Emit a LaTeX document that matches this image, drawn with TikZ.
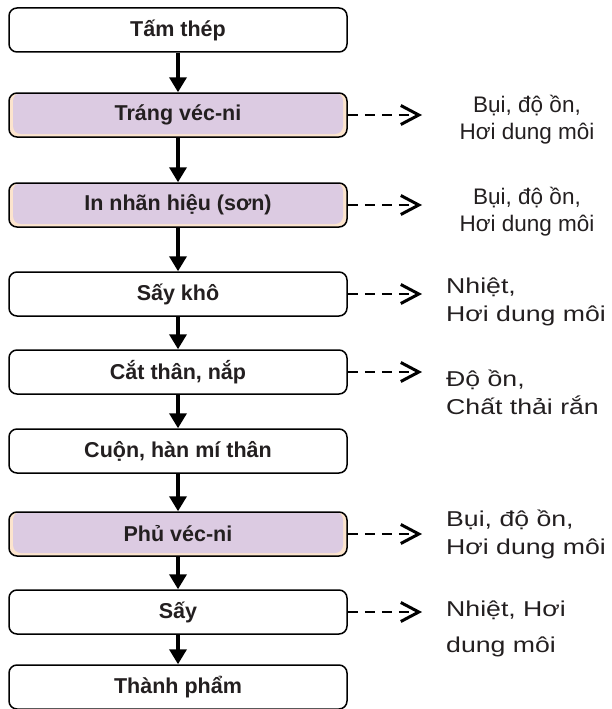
\documentclass[tikz,border=0pt]{standalone}
\usepackage{fontspec}
\setmainfont{Liberation Sans}
\newfontfamily\widefont[FakeStretch=1.24]{Liberation Sans}
\usetikzlibrary{arrows.meta}
\definecolor{lav}{RGB}{220,203,226}
\definecolor{peach}{RGB}{252,228,205}
\definecolor{ink}{RGB}{35,31,32}
\begin{document}
\begin{tikzpicture}[x=1pt,y=-1pt,
 stepbox/.style={draw=black, line width=1.5pt, rounded corners=8pt, minimum width=338pt, minimum height=44pt,
   font=\fontsize{21.5}{25}\selectfont\bfseries, text=ink, inner sep=0pt, fill=white},
 hlbox/.style={stepbox, fill=peach, path picture={\fill[lav] ([xshift=4pt]path picture bounding box.north west) rectangle ([xshift=-4pt,yshift=3pt]path picture bounding box.south east);}},
 flow/.style={-{Triangle[length=15pt,width=17pt]}, line width=3.5pt},
 emit/.style={-{Straight Barb[length=18pt,width=19pt,line width=3pt]}, line width=2.8pt, dash pattern=on 10pt off 7pt},
 lab/.style={font=\fontsize{22.5}{27}\selectfont, align=center, text=ink, inner sep=0pt},
 labw/.style={font=\widefont\fontsize{21.5}{28}\selectfont, align=left, anchor=west, text=ink, inner sep=0pt}
]
\useasboundingbox (0,0) rectangle (611,709);

\node[stepbox] (b1) at (178,30) {Tấm thép};
\node[hlbox]   (b2) at (178,115) {Tráng véc-ni};
\node[hlbox]   (b3) at (178,205) {In nhãn hiệu (sơn)};
\node[stepbox] (b4) at (178,294) {Sấy khô};
\node[stepbox] (b5) at (178,372) {Cắt thân, nắp};
\node[stepbox] (b6) at (178,451) {Cuộn, hàn mí thân};
\node[hlbox]   (b7) at (178,534) {Phủ véc-ni};
\node[stepbox] (b8) at (178,612) {Sấy};
\node[stepbox] (b9) at (178,687) {Thành phẩm};

\foreach \a/\b in {b1/b2,b2/b3,b3/b4,b4/b5,b5/b6,b6/b7,b7/b8,b8/b9}
  \draw[flow] (\a.south) -- (\b.north);

\coordinate (e2) at (422,115);
\coordinate (e3) at (422,205);
\coordinate (e4) at (422,294);
\coordinate (e5) at (422,372);
\coordinate (e7) at (422,534);
\coordinate (e8) at (422,612);
\foreach \b in {2,3,4,5,7,8}
  \draw[emit] (b\b.east) -- (e\b);

\node[lab] (l2) at (527,120) {Bụi, độ ồn,\\Hơi dung môi};
\node[lab] (l3) at (527,212) {Bụi, độ ồn,\\Hơi dung môi};
\node[labw] (l4) at (446,302) {Nhiệt,\\Hơi dung môi};
\node[labw] (l5) at (446,392) {Độ ồn,\\Chất thải rắn};
\node[labw] (l7) at (446,534) {Bụi, độ ồn,\\Hơi dung môi};
\node[labw] (l8) at (446,629) {Nhiệt, Hơi\\[8pt]dung môi};
\end{tikzpicture}
\end{document}
